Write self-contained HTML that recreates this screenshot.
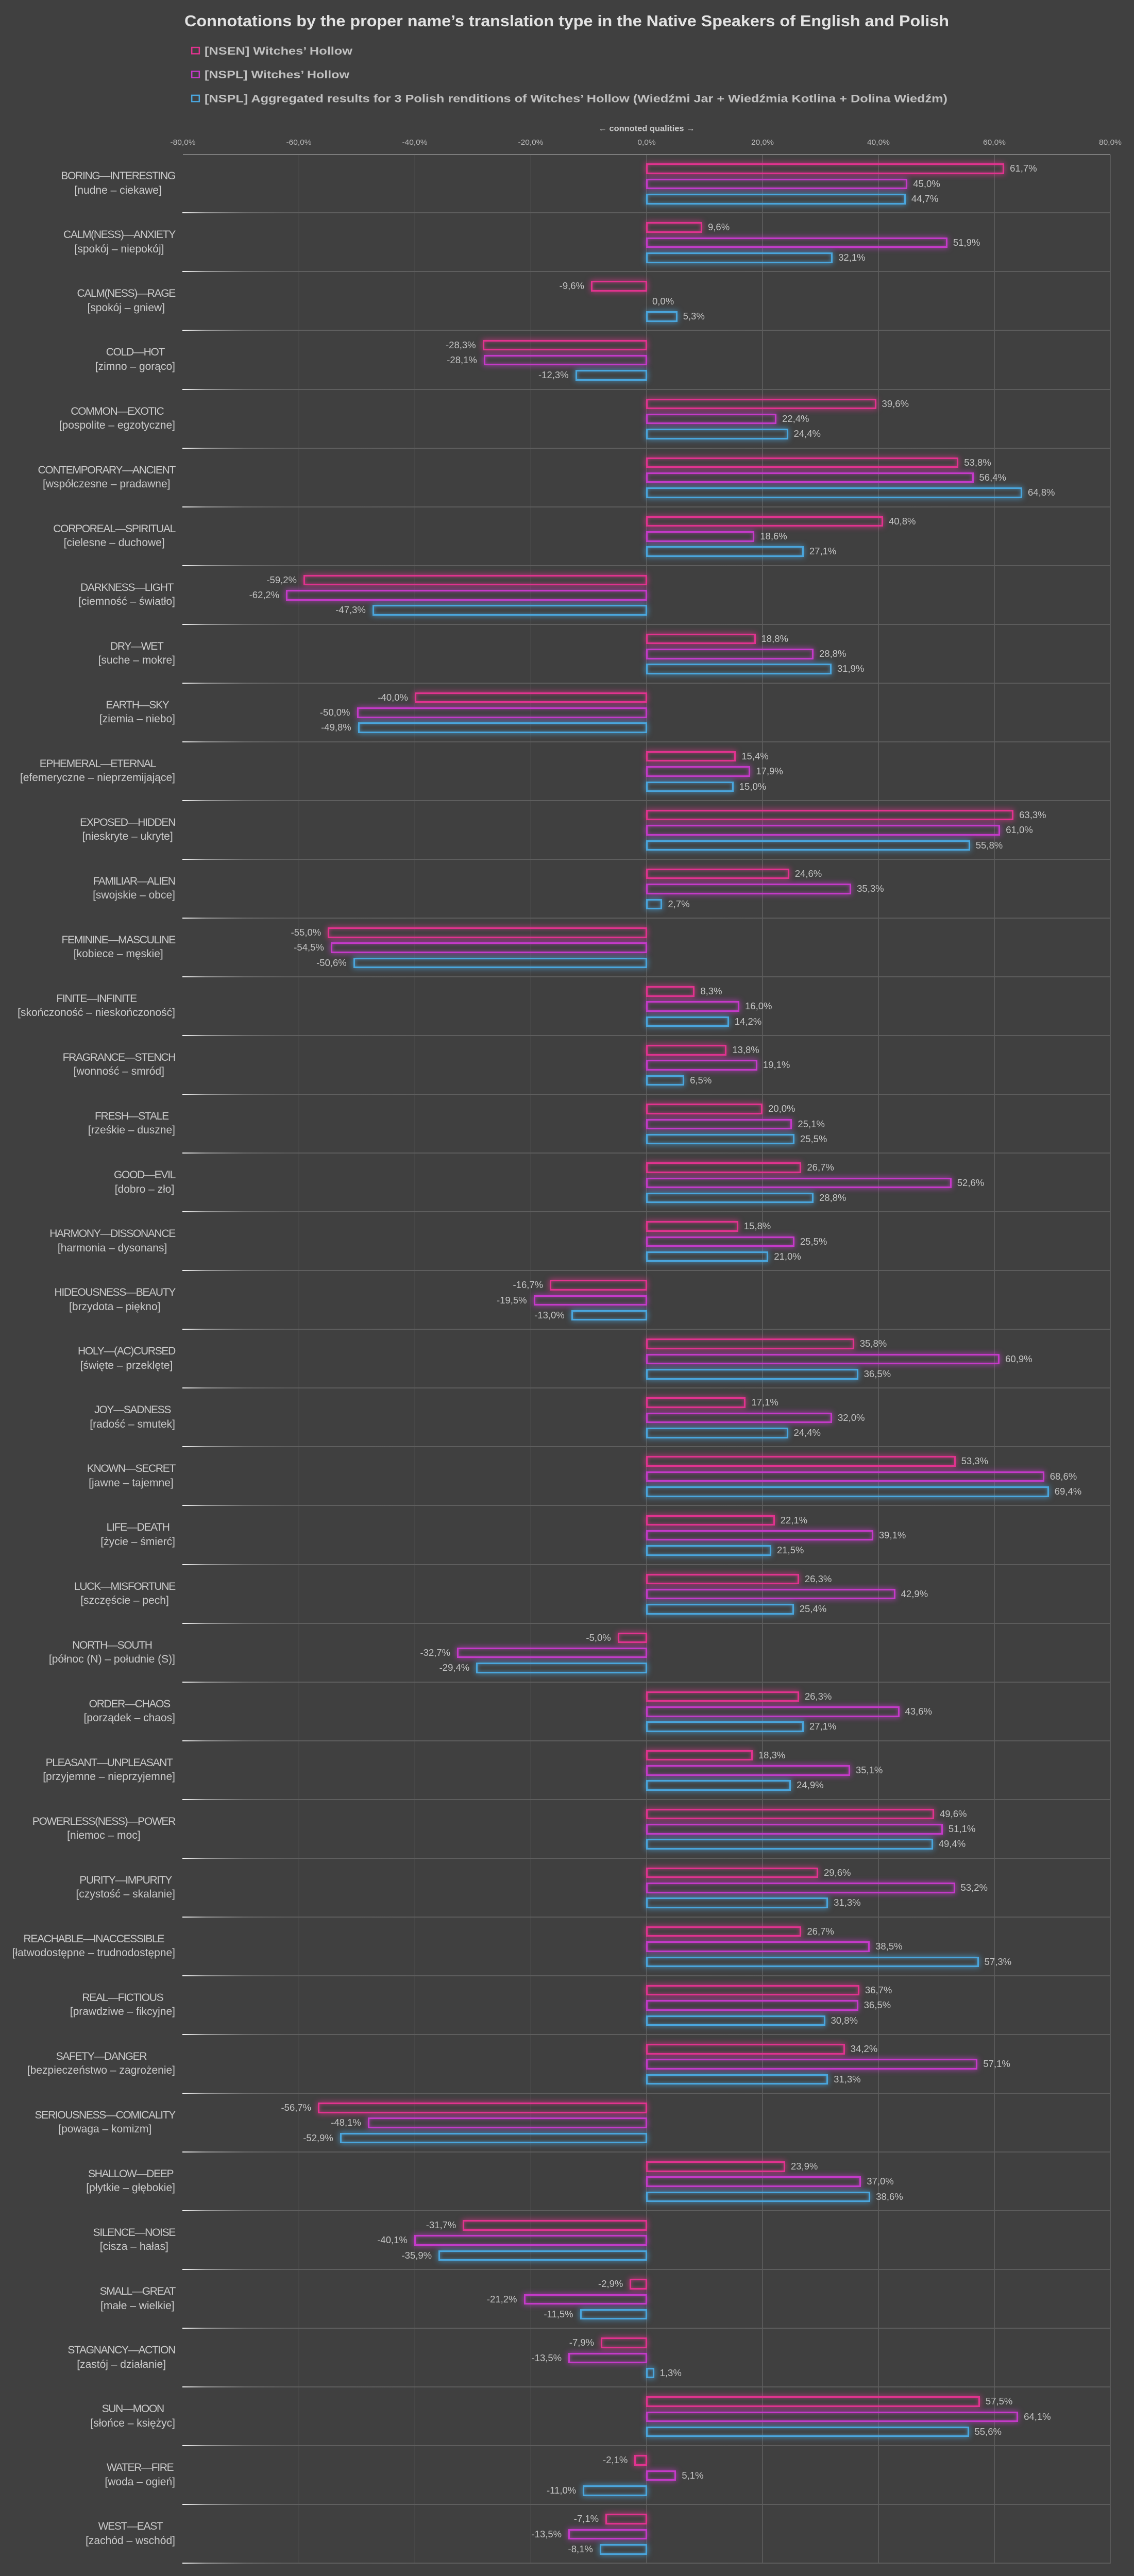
<!DOCTYPE html>
<html><head><meta charset="utf-8">
<style>
:root{--u:calc(100vh / 5117)}
html{margin:0;padding:0;width:2201px;height:100vh;overflow:hidden;background:#404040}
body{margin:0;padding:0;width:2201px;height:100vh;background:#404040;position:relative;overflow:hidden;font-family:"Liberation Sans","DejaVu Sans",sans-serif}
.hd{position:absolute;left:0;top:0;width:2201px;height:calc(var(--u) * 300)}
.g{position:absolute;top:calc(var(--u) * 307);height:calc(var(--u) * 4785);width:1.5px;background:#585858}
.g.d{background:#474747}
.ax{position:absolute;left:355px;top:calc(var(--u) * 306);width:1800px;height:2px;background:#7c7c7c}
.r{position:absolute;left:0;width:2201px;height:calc(var(--u) * 116.72);top:calc(var(--u) * (306.3 + var(--i) * 116.72))}
.r::after{content:"";position:absolute;left:354px;width:1801px;top:calc(var(--u) * 115.72);height:2px;background:linear-gradient(90deg,#f6f6f6 0px,#a0a0a0 45px,#6e6e6e 120px,#5f5f5f 200px,#5c5c5c 100%)}
.t{position:absolute;right:1861px;top:calc(var(--u) * 29.7);text-align:center;font-size:21px;line-height:calc(var(--u) * 28);color:#cbcbcb;white-space:nowrap;letter-spacing:-1.3px}
.t span{letter-spacing:0}
.b{position:absolute;height:calc(var(--u) * 21);box-sizing:border-box;border:3px solid var(--c);box-shadow:0 0 11px 1px var(--g),inset 0 0 8px var(--g)}
.b.p{left:1254px;width:calc(var(--v) * 11.25px + 1px)}
.b.n{left:calc(1255px - var(--v) * 11.25px);width:calc(var(--v) * 11.25px + 1px)}
.l{position:absolute;height:calc(var(--u) * 21);line-height:calc(var(--u) * 21);font-size:18.5px;color:#c4c4c4;white-space:nowrap}
.l.p{left:calc(1266px + var(--v) * 11.25px)}
.l.n{right:calc(959px + var(--v) * 11.25px)}
.s1{top:calc(var(--u) * 18.5);--c:#e2338f;--g:rgba(226,51,143,.66)}
.s2{top:calc(var(--u) * 48.5);--c:#c53ac9;--g:rgba(197,58,201,.66)}
.s3{top:calc(var(--u) * 78.5);--c:#4aa6dd;--g:rgba(74,166,221,.66)}
</style></head>
<body>
<svg class="hd" viewBox="0 0 2201 300" preserveAspectRatio="none" xmlns="http://www.w3.org/2000/svg" font-family="'Liberation Sans','DejaVu Sans',sans-serif">
<text x="358" y="52" font-size="31" font-weight="bold" fill="#e2e2e2" textLength="1484" lengthAdjust="spacingAndGlyphs">Connotations by the proper name’s translation type in the Native Speakers of English and Polish</text>
<rect x="372.2" y="94.2" width="14.6" height="12.6" fill="none" stroke="#e2338f" stroke-width="2.5"/>
<text x="397" y="108.3" font-size="22" font-weight="bold" fill="#c0c0c0" textLength="287" lengthAdjust="spacingAndGlyphs">[NSEN] Witches’ Hollow</text>
<rect x="372.2" y="141.7" width="14.6" height="12.6" fill="none" stroke="#c53ac9" stroke-width="2.5"/>
<text x="397" y="155.8" font-size="22" font-weight="bold" fill="#c0c0c0" textLength="281" lengthAdjust="spacingAndGlyphs">[NSPL] Witches’ Hollow</text>
<rect x="372.2" y="189.2" width="14.6" height="12.6" fill="none" stroke="#4aa6dd" stroke-width="2.5"/>
<text x="397" y="203.3" font-size="22" font-weight="bold" fill="#c0c0c0" textLength="1442" lengthAdjust="spacingAndGlyphs">[NSPL] Aggregated results for 3 Polish renditions of Witches’ Hollow (Wiedźmi Jar + Wiedźmia Kotlina + Dolina Wiedźm)</text>
<text x="1255" y="260.5" text-anchor="middle" font-size="16" font-weight="bold" fill="#c8c8c8" textLength="187" lengthAdjust="spacingAndGlyphs">← connoted qualities →</text>
<g font-size="15.5" fill="#b8b8b8" text-anchor="middle">
<text x="355" y="287.5">-80,0%</text>
<text x="580" y="287.5">-60,0%</text>
<text x="805" y="287.5">-40,0%</text>
<text x="1030" y="287.5">-20,0%</text>
<text x="1255" y="287.5">0,0%</text>
<text x="1480" y="287.5">20,0%</text>
<text x="1705" y="287.5">40,0%</text>
<text x="1930" y="287.5">60,0%</text>
<text x="2155" y="287.5">80,0%</text>
</g>
</svg>

<div class="g d" style="left:579.25px"></div>
<div class="g d" style="left:804.25px"></div>
<div class="g d" style="left:1029.25px"></div>
<div class="g" style="left:1254.25px"></div>
<div class="g" style="left:1479.25px"></div>
<div class="g" style="left:1704.25px"></div>
<div class="g" style="left:1929.25px"></div>
<div class="g" style="left:2154.25px"></div>
<div class="ax"></div>

<div class="r" style="--i:0"><div class="t">BORING—INTERESTING<br><span>[nudne – ciekawe]</span></div>
<div class="b s1 p" style="--v:61.7"></div><span class="l s1 p" style="--v:61.7">61,7%</span>
<div class="b s2 p" style="--v:45.0"></div><span class="l s2 p" style="--v:45.0">45,0%</span>
<div class="b s3 p" style="--v:44.7"></div><span class="l s3 p" style="--v:44.7">44,7%</span></div>

<div class="r" style="--i:1"><div class="t">CALM(NESS)—ANXIETY<br><span>[spokój – niepokój]</span></div>
<div class="b s1 p" style="--v:9.6"></div><span class="l s1 p" style="--v:9.6">9,6%</span>
<div class="b s2 p" style="--v:51.9"></div><span class="l s2 p" style="--v:51.9">51,9%</span>
<div class="b s3 p" style="--v:32.1"></div><span class="l s3 p" style="--v:32.1">32,1%</span></div>

<div class="r" style="--i:2"><div class="t">CALM(NESS)—RAGE<br><span>[spokój – gniew]</span></div>
<div class="b s1 n" style="--v:9.6"></div><span class="l s1 n" style="--v:9.6">-9,6%</span>
<span class="l s2 p" style="--v:0">0,0%</span>
<div class="b s3 p" style="--v:5.3"></div><span class="l s3 p" style="--v:5.3">5,3%</span></div>

<div class="r" style="--i:3"><div class="t">COLD—HOT<br><span>[zimno – gorąco]</span></div>
<div class="b s1 n" style="--v:28.3"></div><span class="l s1 n" style="--v:28.3">-28,3%</span>
<div class="b s2 n" style="--v:28.1"></div><span class="l s2 n" style="--v:28.1">-28,1%</span>
<div class="b s3 n" style="--v:12.3"></div><span class="l s3 n" style="--v:12.3">-12,3%</span></div>

<div class="r" style="--i:4"><div class="t">COMMON—EXOTIC<br><span>[pospolite – egzotyczne]</span></div>
<div class="b s1 p" style="--v:39.6"></div><span class="l s1 p" style="--v:39.6">39,6%</span>
<div class="b s2 p" style="--v:22.4"></div><span class="l s2 p" style="--v:22.4">22,4%</span>
<div class="b s3 p" style="--v:24.4"></div><span class="l s3 p" style="--v:24.4">24,4%</span></div>

<div class="r" style="--i:5"><div class="t">CONTEMPORARY—ANCIENT<br><span>[współczesne – pradawne]</span></div>
<div class="b s1 p" style="--v:53.8"></div><span class="l s1 p" style="--v:53.8">53,8%</span>
<div class="b s2 p" style="--v:56.4"></div><span class="l s2 p" style="--v:56.4">56,4%</span>
<div class="b s3 p" style="--v:64.8"></div><span class="l s3 p" style="--v:64.8">64,8%</span></div>

<div class="r" style="--i:6"><div class="t">CORPOREAL—SPIRITUAL<br><span>[cielesne – duchowe]</span></div>
<div class="b s1 p" style="--v:40.8"></div><span class="l s1 p" style="--v:40.8">40,8%</span>
<div class="b s2 p" style="--v:18.6"></div><span class="l s2 p" style="--v:18.6">18,6%</span>
<div class="b s3 p" style="--v:27.1"></div><span class="l s3 p" style="--v:27.1">27,1%</span></div>

<div class="r" style="--i:7"><div class="t">DARKNESS—LIGHT<br><span>[ciemność – światło]</span></div>
<div class="b s1 n" style="--v:59.2"></div><span class="l s1 n" style="--v:59.2">-59,2%</span>
<div class="b s2 n" style="--v:62.2"></div><span class="l s2 n" style="--v:62.2">-62,2%</span>
<div class="b s3 n" style="--v:47.3"></div><span class="l s3 n" style="--v:47.3">-47,3%</span></div>

<div class="r" style="--i:8"><div class="t">DRY—WET<br><span>[suche – mokre]</span></div>
<div class="b s1 p" style="--v:18.8"></div><span class="l s1 p" style="--v:18.8">18,8%</span>
<div class="b s2 p" style="--v:28.8"></div><span class="l s2 p" style="--v:28.8">28,8%</span>
<div class="b s3 p" style="--v:31.9"></div><span class="l s3 p" style="--v:31.9">31,9%</span></div>

<div class="r" style="--i:9"><div class="t">EARTH—SKY<br><span>[ziemia – niebo]</span></div>
<div class="b s1 n" style="--v:40.0"></div><span class="l s1 n" style="--v:40.0">-40,0%</span>
<div class="b s2 n" style="--v:50.0"></div><span class="l s2 n" style="--v:50.0">-50,0%</span>
<div class="b s3 n" style="--v:49.8"></div><span class="l s3 n" style="--v:49.8">-49,8%</span></div>

<div class="r" style="--i:10"><div class="t">EPHEMERAL—ETERNAL<br><span>[efemeryczne – nieprzemijające]</span></div>
<div class="b s1 p" style="--v:15.4"></div><span class="l s1 p" style="--v:15.4">15,4%</span>
<div class="b s2 p" style="--v:17.9"></div><span class="l s2 p" style="--v:17.9">17,9%</span>
<div class="b s3 p" style="--v:15.0"></div><span class="l s3 p" style="--v:15.0">15,0%</span></div>

<div class="r" style="--i:11"><div class="t">EXPOSED—HIDDEN<br><span>[nieskryte – ukryte]</span></div>
<div class="b s1 p" style="--v:63.3"></div><span class="l s1 p" style="--v:63.3">63,3%</span>
<div class="b s2 p" style="--v:61.0"></div><span class="l s2 p" style="--v:61.0">61,0%</span>
<div class="b s3 p" style="--v:55.8"></div><span class="l s3 p" style="--v:55.8">55,8%</span></div>

<div class="r" style="--i:12"><div class="t">FAMILIAR—ALIEN<br><span>[swojskie – obce]</span></div>
<div class="b s1 p" style="--v:24.6"></div><span class="l s1 p" style="--v:24.6">24,6%</span>
<div class="b s2 p" style="--v:35.3"></div><span class="l s2 p" style="--v:35.3">35,3%</span>
<div class="b s3 p" style="--v:2.7"></div><span class="l s3 p" style="--v:2.7">2,7%</span></div>

<div class="r" style="--i:13"><div class="t">FEMININE—MASCULINE<br><span>[kobiece – męskie]</span></div>
<div class="b s1 n" style="--v:55.0"></div><span class="l s1 n" style="--v:55.0">-55,0%</span>
<div class="b s2 n" style="--v:54.5"></div><span class="l s2 n" style="--v:54.5">-54,5%</span>
<div class="b s3 n" style="--v:50.6"></div><span class="l s3 n" style="--v:50.6">-50,6%</span></div>

<div class="r" style="--i:14"><div class="t">FINITE—INFINITE<br><span>[skończoność – nieskończoność]</span></div>
<div class="b s1 p" style="--v:8.3"></div><span class="l s1 p" style="--v:8.3">8,3%</span>
<div class="b s2 p" style="--v:16.0"></div><span class="l s2 p" style="--v:16.0">16,0%</span>
<div class="b s3 p" style="--v:14.2"></div><span class="l s3 p" style="--v:14.2">14,2%</span></div>

<div class="r" style="--i:15"><div class="t">FRAGRANCE—STENCH<br><span>[wonność – smród]</span></div>
<div class="b s1 p" style="--v:13.8"></div><span class="l s1 p" style="--v:13.8">13,8%</span>
<div class="b s2 p" style="--v:19.1"></div><span class="l s2 p" style="--v:19.1">19,1%</span>
<div class="b s3 p" style="--v:6.5"></div><span class="l s3 p" style="--v:6.5">6,5%</span></div>

<div class="r" style="--i:16"><div class="t">FRESH—STALE<br><span>[rześkie – duszne]</span></div>
<div class="b s1 p" style="--v:20.0"></div><span class="l s1 p" style="--v:20.0">20,0%</span>
<div class="b s2 p" style="--v:25.1"></div><span class="l s2 p" style="--v:25.1">25,1%</span>
<div class="b s3 p" style="--v:25.5"></div><span class="l s3 p" style="--v:25.5">25,5%</span></div>

<div class="r" style="--i:17"><div class="t">GOOD—EVIL<br><span>[dobro – zło]</span></div>
<div class="b s1 p" style="--v:26.7"></div><span class="l s1 p" style="--v:26.7">26,7%</span>
<div class="b s2 p" style="--v:52.6"></div><span class="l s2 p" style="--v:52.6">52,6%</span>
<div class="b s3 p" style="--v:28.8"></div><span class="l s3 p" style="--v:28.8">28,8%</span></div>

<div class="r" style="--i:18"><div class="t">HARMONY—DISSONANCE<br><span>[harmonia – dysonans]</span></div>
<div class="b s1 p" style="--v:15.8"></div><span class="l s1 p" style="--v:15.8">15,8%</span>
<div class="b s2 p" style="--v:25.5"></div><span class="l s2 p" style="--v:25.5">25,5%</span>
<div class="b s3 p" style="--v:21.0"></div><span class="l s3 p" style="--v:21.0">21,0%</span></div>

<div class="r" style="--i:19"><div class="t">HIDEOUSNESS—BEAUTY<br><span>[brzydota – piękno]</span></div>
<div class="b s1 n" style="--v:16.7"></div><span class="l s1 n" style="--v:16.7">-16,7%</span>
<div class="b s2 n" style="--v:19.5"></div><span class="l s2 n" style="--v:19.5">-19,5%</span>
<div class="b s3 n" style="--v:13.0"></div><span class="l s3 n" style="--v:13.0">-13,0%</span></div>

<div class="r" style="--i:20"><div class="t">HOLY—(AC)CURSED<br><span>[święte – przeklęte]</span></div>
<div class="b s1 p" style="--v:35.8"></div><span class="l s1 p" style="--v:35.8">35,8%</span>
<div class="b s2 p" style="--v:60.9"></div><span class="l s2 p" style="--v:60.9">60,9%</span>
<div class="b s3 p" style="--v:36.5"></div><span class="l s3 p" style="--v:36.5">36,5%</span></div>

<div class="r" style="--i:21"><div class="t">JOY—SADNESS<br><span>[radość – smutek]</span></div>
<div class="b s1 p" style="--v:17.1"></div><span class="l s1 p" style="--v:17.1">17,1%</span>
<div class="b s2 p" style="--v:32.0"></div><span class="l s2 p" style="--v:32.0">32,0%</span>
<div class="b s3 p" style="--v:24.4"></div><span class="l s3 p" style="--v:24.4">24,4%</span></div>

<div class="r" style="--i:22"><div class="t">KNOWN—SECRET<br><span>[jawne – tajemne]</span></div>
<div class="b s1 p" style="--v:53.3"></div><span class="l s1 p" style="--v:53.3">53,3%</span>
<div class="b s2 p" style="--v:68.6"></div><span class="l s2 p" style="--v:68.6">68,6%</span>
<div class="b s3 p" style="--v:69.4"></div><span class="l s3 p" style="--v:69.4">69,4%</span></div>

<div class="r" style="--i:23"><div class="t">LIFE—DEATH<br><span>[życie – śmierć]</span></div>
<div class="b s1 p" style="--v:22.1"></div><span class="l s1 p" style="--v:22.1">22,1%</span>
<div class="b s2 p" style="--v:39.1"></div><span class="l s2 p" style="--v:39.1">39,1%</span>
<div class="b s3 p" style="--v:21.5"></div><span class="l s3 p" style="--v:21.5">21,5%</span></div>

<div class="r" style="--i:24"><div class="t">LUCK—MISFORTUNE<br><span>[szczęście – pech]</span></div>
<div class="b s1 p" style="--v:26.3"></div><span class="l s1 p" style="--v:26.3">26,3%</span>
<div class="b s2 p" style="--v:42.9"></div><span class="l s2 p" style="--v:42.9">42,9%</span>
<div class="b s3 p" style="--v:25.4"></div><span class="l s3 p" style="--v:25.4">25,4%</span></div>

<div class="r" style="--i:25"><div class="t">NORTH—SOUTH<br><span>[północ (N) – południe (S)]</span></div>
<div class="b s1 n" style="--v:5.0"></div><span class="l s1 n" style="--v:5.0">-5,0%</span>
<div class="b s2 n" style="--v:32.7"></div><span class="l s2 n" style="--v:32.7">-32,7%</span>
<div class="b s3 n" style="--v:29.4"></div><span class="l s3 n" style="--v:29.4">-29,4%</span></div>

<div class="r" style="--i:26"><div class="t">ORDER—CHAOS<br><span>[porządek – chaos]</span></div>
<div class="b s1 p" style="--v:26.3"></div><span class="l s1 p" style="--v:26.3">26,3%</span>
<div class="b s2 p" style="--v:43.6"></div><span class="l s2 p" style="--v:43.6">43,6%</span>
<div class="b s3 p" style="--v:27.1"></div><span class="l s3 p" style="--v:27.1">27,1%</span></div>

<div class="r" style="--i:27"><div class="t">PLEASANT—UNPLEASANT<br><span>[przyjemne – nieprzyjemne]</span></div>
<div class="b s1 p" style="--v:18.3"></div><span class="l s1 p" style="--v:18.3">18,3%</span>
<div class="b s2 p" style="--v:35.1"></div><span class="l s2 p" style="--v:35.1">35,1%</span>
<div class="b s3 p" style="--v:24.9"></div><span class="l s3 p" style="--v:24.9">24,9%</span></div>

<div class="r" style="--i:28"><div class="t">POWERLESS(NESS)—POWER<br><span>[niemoc – moc]</span></div>
<div class="b s1 p" style="--v:49.6"></div><span class="l s1 p" style="--v:49.6">49,6%</span>
<div class="b s2 p" style="--v:51.1"></div><span class="l s2 p" style="--v:51.1">51,1%</span>
<div class="b s3 p" style="--v:49.4"></div><span class="l s3 p" style="--v:49.4">49,4%</span></div>

<div class="r" style="--i:29"><div class="t">PURITY—IMPURITY<br><span>[czystość – skalanie]</span></div>
<div class="b s1 p" style="--v:29.6"></div><span class="l s1 p" style="--v:29.6">29,6%</span>
<div class="b s2 p" style="--v:53.2"></div><span class="l s2 p" style="--v:53.2">53,2%</span>
<div class="b s3 p" style="--v:31.3"></div><span class="l s3 p" style="--v:31.3">31,3%</span></div>

<div class="r" style="--i:30"><div class="t">REACHABLE—INACCESSIBLE<br><span>[łatwodostępne – trudnodostępne]</span></div>
<div class="b s1 p" style="--v:26.7"></div><span class="l s1 p" style="--v:26.7">26,7%</span>
<div class="b s2 p" style="--v:38.5"></div><span class="l s2 p" style="--v:38.5">38,5%</span>
<div class="b s3 p" style="--v:57.3"></div><span class="l s3 p" style="--v:57.3">57,3%</span></div>

<div class="r" style="--i:31"><div class="t">REAL—FICTIOUS<br><span>[prawdziwe – fikcyjne]</span></div>
<div class="b s1 p" style="--v:36.7"></div><span class="l s1 p" style="--v:36.7">36,7%</span>
<div class="b s2 p" style="--v:36.5"></div><span class="l s2 p" style="--v:36.5">36,5%</span>
<div class="b s3 p" style="--v:30.8"></div><span class="l s3 p" style="--v:30.8">30,8%</span></div>

<div class="r" style="--i:32"><div class="t">SAFETY—DANGER<br><span>[bezpieczeństwo – zagrożenie]</span></div>
<div class="b s1 p" style="--v:34.2"></div><span class="l s1 p" style="--v:34.2">34,2%</span>
<div class="b s2 p" style="--v:57.1"></div><span class="l s2 p" style="--v:57.1">57,1%</span>
<div class="b s3 p" style="--v:31.3"></div><span class="l s3 p" style="--v:31.3">31,3%</span></div>

<div class="r" style="--i:33"><div class="t">SERIOUSNESS—COMICALITY<br><span>[powaga – komizm]</span></div>
<div class="b s1 n" style="--v:56.7"></div><span class="l s1 n" style="--v:56.7">-56,7%</span>
<div class="b s2 n" style="--v:48.1"></div><span class="l s2 n" style="--v:48.1">-48,1%</span>
<div class="b s3 n" style="--v:52.9"></div><span class="l s3 n" style="--v:52.9">-52,9%</span></div>

<div class="r" style="--i:34"><div class="t">SHALLOW—DEEP<br><span>[płytkie – głębokie]</span></div>
<div class="b s1 p" style="--v:23.9"></div><span class="l s1 p" style="--v:23.9">23,9%</span>
<div class="b s2 p" style="--v:37.0"></div><span class="l s2 p" style="--v:37.0">37,0%</span>
<div class="b s3 p" style="--v:38.6"></div><span class="l s3 p" style="--v:38.6">38,6%</span></div>

<div class="r" style="--i:35"><div class="t">SILENCE—NOISE<br><span>[cisza – hałas]</span></div>
<div class="b s1 n" style="--v:31.7"></div><span class="l s1 n" style="--v:31.7">-31,7%</span>
<div class="b s2 n" style="--v:40.1"></div><span class="l s2 n" style="--v:40.1">-40,1%</span>
<div class="b s3 n" style="--v:35.9"></div><span class="l s3 n" style="--v:35.9">-35,9%</span></div>

<div class="r" style="--i:36"><div class="t">SMALL—GREAT<br><span>[małe – wielkie]</span></div>
<div class="b s1 n" style="--v:2.9"></div><span class="l s1 n" style="--v:2.9">-2,9%</span>
<div class="b s2 n" style="--v:21.2"></div><span class="l s2 n" style="--v:21.2">-21,2%</span>
<div class="b s3 n" style="--v:11.5"></div><span class="l s3 n" style="--v:11.5">-11,5%</span></div>

<div class="r" style="--i:37"><div class="t">STAGNANCY—ACTION<br><span>[zastój – działanie]</span></div>
<div class="b s1 n" style="--v:7.9"></div><span class="l s1 n" style="--v:7.9">-7,9%</span>
<div class="b s2 n" style="--v:13.5"></div><span class="l s2 n" style="--v:13.5">-13,5%</span>
<div class="b s3 p" style="--v:1.3"></div><span class="l s3 p" style="--v:1.3">1,3%</span></div>

<div class="r" style="--i:38"><div class="t">SUN—MOON<br><span>[słońce – księżyc]</span></div>
<div class="b s1 p" style="--v:57.5"></div><span class="l s1 p" style="--v:57.5">57,5%</span>
<div class="b s2 p" style="--v:64.1"></div><span class="l s2 p" style="--v:64.1">64,1%</span>
<div class="b s3 p" style="--v:55.6"></div><span class="l s3 p" style="--v:55.6">55,6%</span></div>

<div class="r" style="--i:39"><div class="t">WATER—FIRE<br><span>[woda – ogień]</span></div>
<div class="b s1 n" style="--v:2.1"></div><span class="l s1 n" style="--v:2.1">-2,1%</span>
<div class="b s2 p" style="--v:5.1"></div><span class="l s2 p" style="--v:5.1">5,1%</span>
<div class="b s3 n" style="--v:11.0"></div><span class="l s3 n" style="--v:11.0">-11,0%</span></div>

<div class="r" style="--i:40"><div class="t">WEST—EAST<br><span>[zachód – wschód]</span></div>
<div class="b s1 n" style="--v:7.1"></div><span class="l s1 n" style="--v:7.1">-7,1%</span>
<div class="b s2 n" style="--v:13.5"></div><span class="l s2 n" style="--v:13.5">-13,5%</span>
<div class="b s3 n" style="--v:8.1"></div><span class="l s3 n" style="--v:8.1">-8,1%</span></div>

</body></html>
